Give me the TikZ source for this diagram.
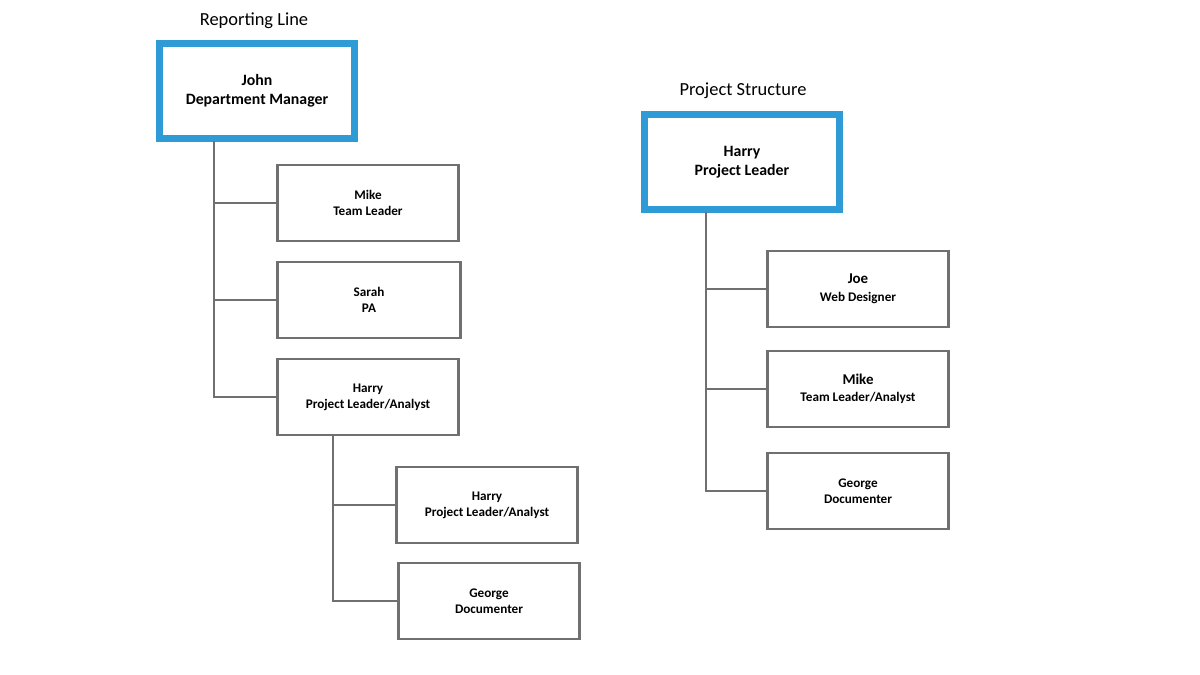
\documentclass[tikz,border=0pt]{standalone}
\usepackage{fontspec}
\setmainfont{Carlito}
\definecolor{boxblue}{HTML}{2E9BD6}
\definecolor{linegray}{HTML}{707070}
\tikzset{
    member/.style={draw=linegray, line width=0.05cm, minimum width=3.62cm, minimum height=1.52cm, align=center, font=\fontsize{7.5}{9}\selectfont\bfseries},
    lead/.style={draw=boxblue, line width=0.12cm, minimum width=3.88cm, minimum height=1.88cm, align=center, font=\fontsize{9}{11}\selectfont\bfseries},
    link/.style={draw=linegray, line width=0.05cm},
    title/.style={font=\fontsize{10.5}{12}\selectfont}
}
\begin{document}
\begin{tikzpicture}[x=0.02cm, y=-0.02cm]
    \useasboundingbox (0,0) rectangle (1200,675);

    % reporting line
    \node [title] (rtitle) at (254,21) {Reporting Line};
    \node [lead] (john) at (257,91) {John\\Department Manager};
    \draw [boxblue, line width=0.03cm] ([shift={(0.12,-0.12)}]john.north west) rectangle ([shift={(-0.12,0.12)}]john.south east);

    \node [member] (mike) at (368,203) {Mike\\Team Leader};
    \node [member, minimum width=3.66cm] (sarah) at (369,300) {Sarah\\PA};
    \node [member] (harry) at (368,397) {Harry\\Project Leader/Analyst};
    \node [member] (harrya) at (487,505) {Harry\\Project Leader/Analyst};
    \node [member] (george) at (489,601) {George\\Documenter};

    \coordinate (jtop) at (214,141);
    \draw [link] (jtop) |- (harry.west);
    \draw [link] (jtop |- mike.west) -- (mike.west);
    \draw [link] (jtop |- sarah.west) -- (sarah.west);

    \coordinate (htop) at (333,435);
    \draw [link] (htop) |- (george.west);
    \draw [link] (htop |- harrya.west) -- (harrya.west);

    % project structure
    \node [title] (ptitle) at (743,91) {Project Structure};
    \node [lead] (harryp) at (742,162) {Harry\\Project Leader};
    \draw [boxblue, line width=0.03cm] ([shift={(0.12,-0.12)}]harryp.north west) rectangle ([shift={(-0.12,0.12)}]harryp.south east);

    \node [member, font=\fontsize{8.5}{10}\selectfont\bfseries] (joe) at (858,289) {Joe\\{\fontsize{7.5}{9}\selectfont Web Designer}};
    \node [member, font=\fontsize{8.5}{10}\selectfont\bfseries] (mikep) at (858,389) {Mike\\{\fontsize{7.5}{9}\selectfont Team Leader/Analyst}};
    \node [member] (georgep) at (858,491) {George\\Documenter};

    \coordinate (ptop) at (706,212);
    \draw [link] (ptop) |- (georgep.west);
    \draw [link] (ptop |- joe.west) -- (joe.west);
    \draw [link] (ptop |- mikep.west) -- (mikep.west);
\end{tikzpicture}
\end{document}
